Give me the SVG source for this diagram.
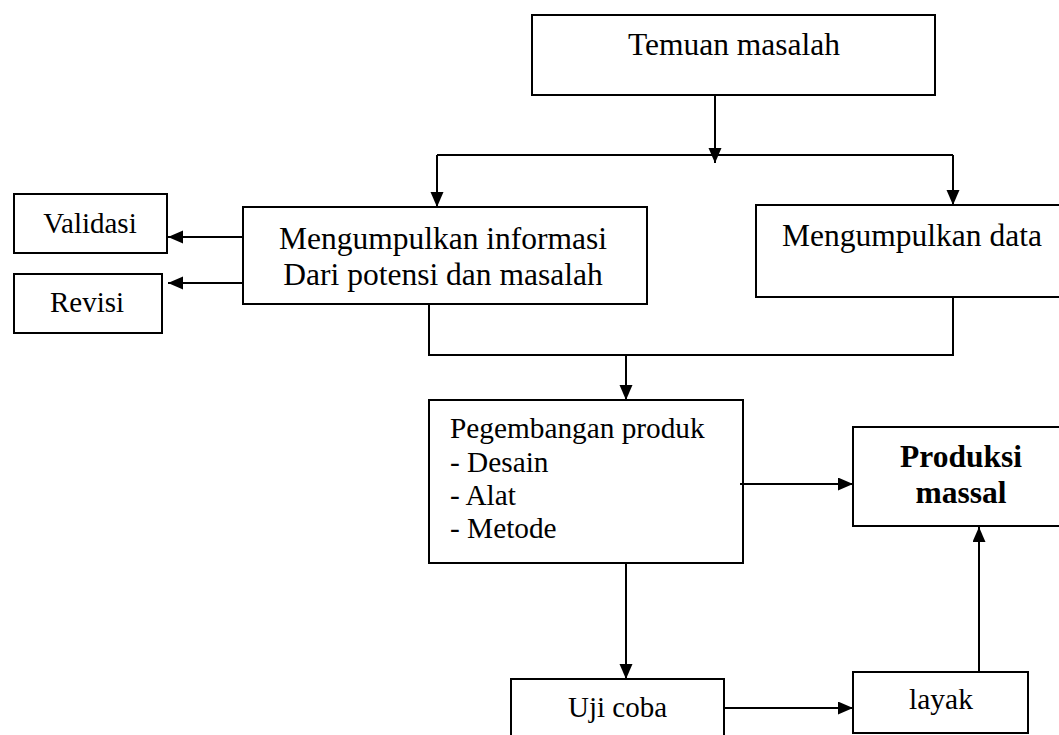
<svg xmlns="http://www.w3.org/2000/svg" width="1059" height="735" viewBox="0 0 1059 735">
<style>
.box{fill:#fff;stroke:#000;stroke-width:2}
.t{font-family:"Liberation Serif","Times New Roman",serif;fill:#000}
.c{text-anchor:middle}
.con{fill:none;stroke:#000;stroke-width:2}
</style>
<defs>
<marker id="ah" markerUnits="userSpaceOnUse" markerWidth="16" markerHeight="14" refX="15" refY="6.5" orient="auto">
<path d="M0,0 L15,6.5 L0,13 z" fill="#000"/>
</marker>
</defs>
<rect width="1059" height="735" fill="#fff"/>
<g id="temuan"><rect class="box" x="532" y="15" width="403" height="80"/><text class="t c" x="734" y="55" font-size="31.5">Temuan masalah</text></g>
<g id="info"><rect class="box" x="243" y="207" width="404" height="97"/><text class="t c" x="443" y="249" font-size="31.5">Mengumpulkan informasi</text><text class="t c" x="443" y="285" font-size="31.5">Dari potensi dan masalah</text></g>
<g id="data"><rect class="box" x="756" y="205" width="312" height="92"/><text class="t c" x="912" y="246" font-size="31.5">Mengumpulkan data</text></g>
<g id="validasi"><rect class="box" x="14" y="194" width="153" height="59"/><text class="t c" x="90" y="233" font-size="29">Validasi</text></g>
<g id="revisi"><rect class="box" x="14" y="274" width="148" height="59"/><text class="t c" x="87" y="312" font-size="29">Revisi</text></g>
<g id="pegembangan"><rect class="box" x="429" y="400" width="314" height="163"/>
<text class="t" x="450" y="438" font-size="29.3">Pegembangan produk</text>
<text class="t" x="450" y="472" font-size="29.3">- Desain</text>
<text class="t" x="450" y="505" font-size="29.3">- Alat</text>
<text class="t" x="450" y="538" font-size="29.3">- Metode</text></g>
<g id="produksi"><rect class="box" x="853" y="427" width="215" height="99"/><text class="t c" x="961" y="467" font-size="31.5" font-weight="bold">Produksi</text><text class="t c" x="961" y="503" font-size="31.5" font-weight="bold">massal</text></g>
<g id="uji"><rect class="box" x="511" y="679" width="213" height="66"/><text class="t c" x="617.5" y="717" font-size="29">Uji coba</text></g>
<g id="layak"><rect class="box" x="853" y="672" width="175" height="61"/><text class="t c" x="941" y="709" font-size="29.5">layak</text></g>
<g id="connectors">
<path class="con" d="M715,95 V163" marker-end="url(#ah)"/>
<path class="con" d="M437,155 H953"/>
<path class="con" d="M437,155 V207" marker-end="url(#ah)"/>
<path class="con" d="M953,155 V205" marker-end="url(#ah)"/>
<path class="con" d="M243,237 H168" marker-end="url(#ah)"/>
<path class="con" d="M243,283 H168" marker-end="url(#ah)"/>
<path class="con" d="M429,304 V355 H953 V297"/>
<path class="con" d="M626,355 V400" marker-end="url(#ah)"/>
<path class="con" d="M740,484 H853" marker-end="url(#ah)"/>
<path class="con" d="M626,563 V679" marker-end="url(#ah)"/>
<path class="con" d="M724,708 H853" marker-end="url(#ah)"/>
<path class="con" d="M979,672 V527" marker-end="url(#ah)"/>
</g>
</svg>
